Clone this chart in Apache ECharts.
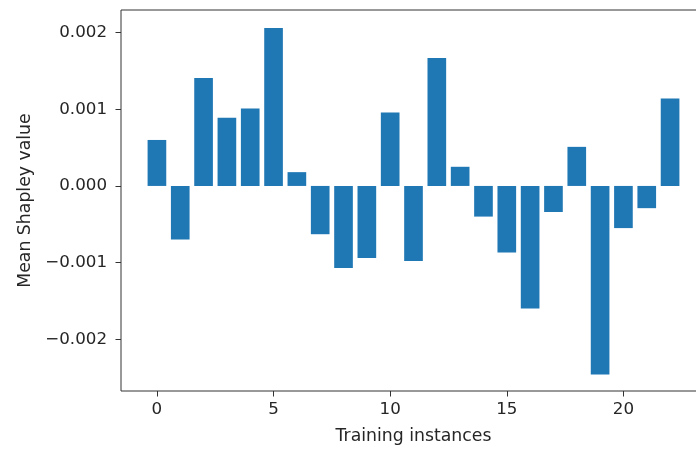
<!DOCTYPE html>
<html>
<head>
<meta charset="utf-8">
<script src="https://cdn.jsdelivr.net/npm/echarts@6/dist/echarts.min.js"></script>
<style>
  html, body { margin: 0; padding: 0; background: #fff; }
  #chart { width: 696px; height: 449px; }
</style>
</head>
<body>
<div id="chart"></div>
<script>
// Mean Shapley value per training instance
const instances = [0, 1, 2, 3, 4, 5, 6, 7, 8, 9, 10, 11, 12, 13, 14, 15, 16, 17, 18, 19, 20, 21, 22];
const meanShapley = [
  0.00060, -0.00070, 0.00141, 0.00089, 0.00101, 0.00206, 0.00018, -0.00063,
  -0.00107, -0.00094, 0.00096, -0.00098, 0.00167, 0.00025, -0.00040, -0.00087,
  -0.00160, -0.00034, 0.00051, -0.00246, -0.00055, -0.00029, 0.00114
];
const xTicks = [0, 5, 10, 15, 20];
const yTicks = [-0.002, -0.001, 0, 0.001, 0.002];

const chart = echarts.init(document.getElementById('chart'), null, { renderer: 'canvas' });

const textColor = '#262626';
const font = 'DejaVu Sans';

chart.setOption({
  animation: false,
  backgroundColor: '#ffffff',
  grid: {
    left: 121, top: 10, width: 585, height: 381,
    outerBoundsMode: 'none', containLabel: false,
    show: true, borderColor: '#333333', borderWidth: 1, backgroundColor: 'transparent'
  },
  xAxis: {
    type: 'value',
    min: -1.54, max: 23.54,
    name: 'Training instances',
    nameLocation: 'middle',
    nameGap: 37,
    nameTextStyle: { color: textColor, fontSize: 17.3, fontFamily: font },
    axisLine: { show: false, onZero: false },
    splitLine: { show: false },
    axisTick: { show: true, length: 5.5, inside: false, customValues: xTicks,
                lineStyle: { color: '#333333', width: 1 } },
    axisLabel: { customValues: xTicks, margin: 10, color: textColor, fontSize: 16.7, fontFamily: font,
                 formatter: v => String(v) }
  },
  yAxis: {
    type: 'value',
    min: -0.002676, max: 0.002296,
    name: 'Mean Shapley value',
    nameLocation: 'middle',
    nameGap: 86,
    nameRotate: 90,
    nameTextStyle: { color: textColor, fontSize: 17.3, fontFamily: font },
    axisLine: { show: false, onZero: false },
    splitLine: { show: false },
    axisTick: { show: true, length: 5.5, inside: false, customValues: yTicks,
                lineStyle: { color: '#333333', width: 1 } },
    axisLabel: { customValues: yTicks, margin: 14, color: textColor, fontSize: 16.7, fontFamily: font,
                 formatter: v => (v < 0 ? '\u2212' : '') + Math.abs(v).toFixed(3) }
  },
  series: [{
    type: 'bar',
    data: instances.map((x, i) => [x, meanShapley[i]]),
    barWidth: '80%',
    itemStyle: { color: '#1f77b4' }
  }]
});
</script>
</body>
</html>
